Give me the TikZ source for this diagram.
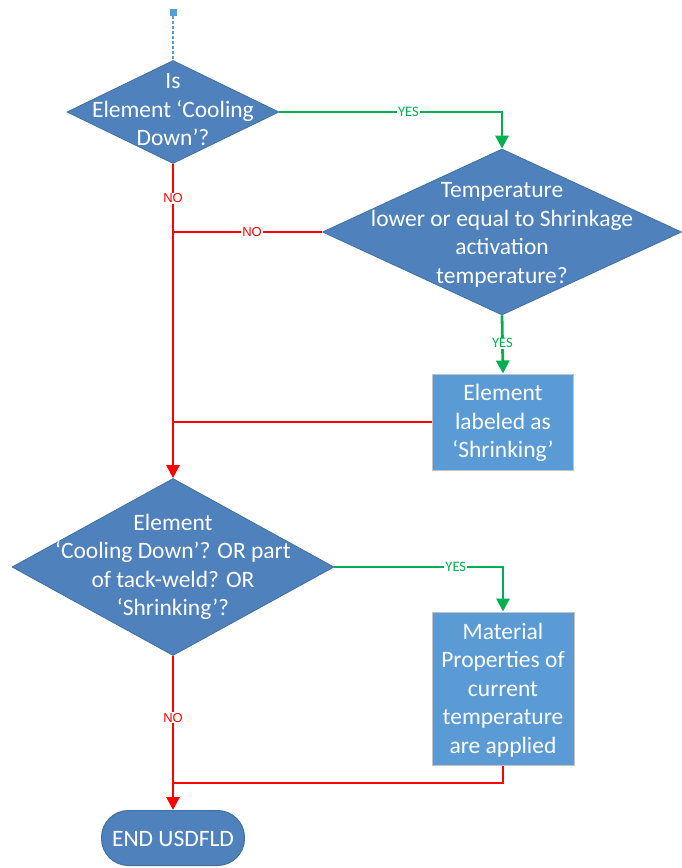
\documentclass[tikz,border=0pt]{standalone}
\usepackage{fontspec}
\setmainfont{Carlito}
\newfontfamily\labelfont{Liberation Sans}
\usetikzlibrary{shapes.geometric,arrows.meta}
\definecolor{decfill}{HTML}{4F81BD}
\definecolor{decline}{HTML}{41719C}
\definecolor{procfill}{HTML}{5B9BD5}
\definecolor{procline}{HTML}{C3C3C3}
\definecolor{yesgreen}{HTML}{00B050}
\definecolor{nored}{HTML}{FF0000}
\begin{document}
\begin{tikzpicture}[x=1pt,y=-1pt,
  decision/.style={shape=diamond,draw=decline,line width=0.8pt,fill=decfill,inner sep=0pt},
  process/.style={shape=rectangle,draw=procline,line width=1pt,fill=procfill,inner sep=0pt},
  terminal/.style={shape=rectangle,rounded corners=27pt,draw=decline,line width=1pt,fill=decfill,inner sep=0pt},
  boxtext/.style={text=white,align=center,font=\fontsize{23.5}{28.5}\selectfont,inner sep=0pt},
  yesflow/.style={draw=yesgreen,line width=2.8pt},
  noflow/.style={draw=nored,line width=2.8pt},
  tip/.style={-{Triangle[width=13pt,length=13pt]}},
  yeslabel/.style={fill=white,text=yesgreen,inner sep=1pt,font=\fontsize{14.5}{16}\selectfont},
  nolabel/.style={fill=white,text=nored,inner sep=1pt,font=\labelfont\fontsize{13}{15}\selectfont}
]
\useasboundingbox (0,0) rectangle (681,868);

% shapes
\node[fill=procfill,minimum width=7pt,minimum height=7pt,inner sep=0pt] (start) at (173,12) {};
\node[decision,minimum width=212pt,minimum height=103pt] (d1) at (173,112) {};
\node[decision,minimum width=359pt,minimum height=166pt] (d2) at (502,232) {};
\node[process,minimum width=141pt,minimum height=96pt] (r1) at (503,422) {};
\node[decision,minimum width=322pt,minimum height=177pt] (d3) at (173,567) {};
\node[process,minimum width=142pt,minimum height=153pt] (r2) at (503,688.5) {};
\node[terminal,minimum width=143pt,minimum height=55pt] (end) at (173,838) {};

% texts
\node[boxtext] (d1t) at (173,110) {Is\\Element ‘Cooling\\Down’?};
\node[boxtext] (d2t) at (502,235) {Temperature\\lower or equal to Shrinkage\\activation\\temperature?};
\node[boxtext] (r1t) at (503,423) {Element\\labeled as\\‘Shrinking’};
\node[boxtext] (d3t) at (173,567) {Element\\‘Cooling Down’? OR part\\of tack-weld? OR\\‘Shrinking’?};
\node[boxtext] (r2t) at (503,690) {Material\\Properties of\\current\\temperature\\are applied};
\node[boxtext] (endt) at (173,839) {END USDFLD};

% connectors
\coordinate (j3) at (173,783);
\draw[draw=procfill,line width=2.2pt,dash pattern=on 3pt off 2pt] (start) -- (d1.north);
\draw[yesflow,tip] (d1.east) -| node[yeslabel,pos=0.29] (l1) {YES} (d2.north);
\draw[noflow] (d2.west) -- node[nolabel,pos=0.47] (l2) {NO} (d2.west -| d1.south);
\draw[noflow,tip] (d1.south) -- node[nolabel,pos=0.11] (l3) {NO} (d3.north);
\draw[yesflow,tip] (d2.south) -- node[yeslabel,pos=0.48] (l4) {YES} (r1.north);
\draw[noflow] (r1.west) -- (r1.west -| d1.south);
\draw[yesflow,tip] (d3.east) -| node[yeslabel,pos=0.36] (l5) {YES} (r2.north);
\draw[noflow,tip] (d3.south) -- node[nolabel,pos=0.4] (l6) {NO} (end.north);
\draw[noflow] (r2.south) |- (j3);
\end{tikzpicture}
\end{document}
